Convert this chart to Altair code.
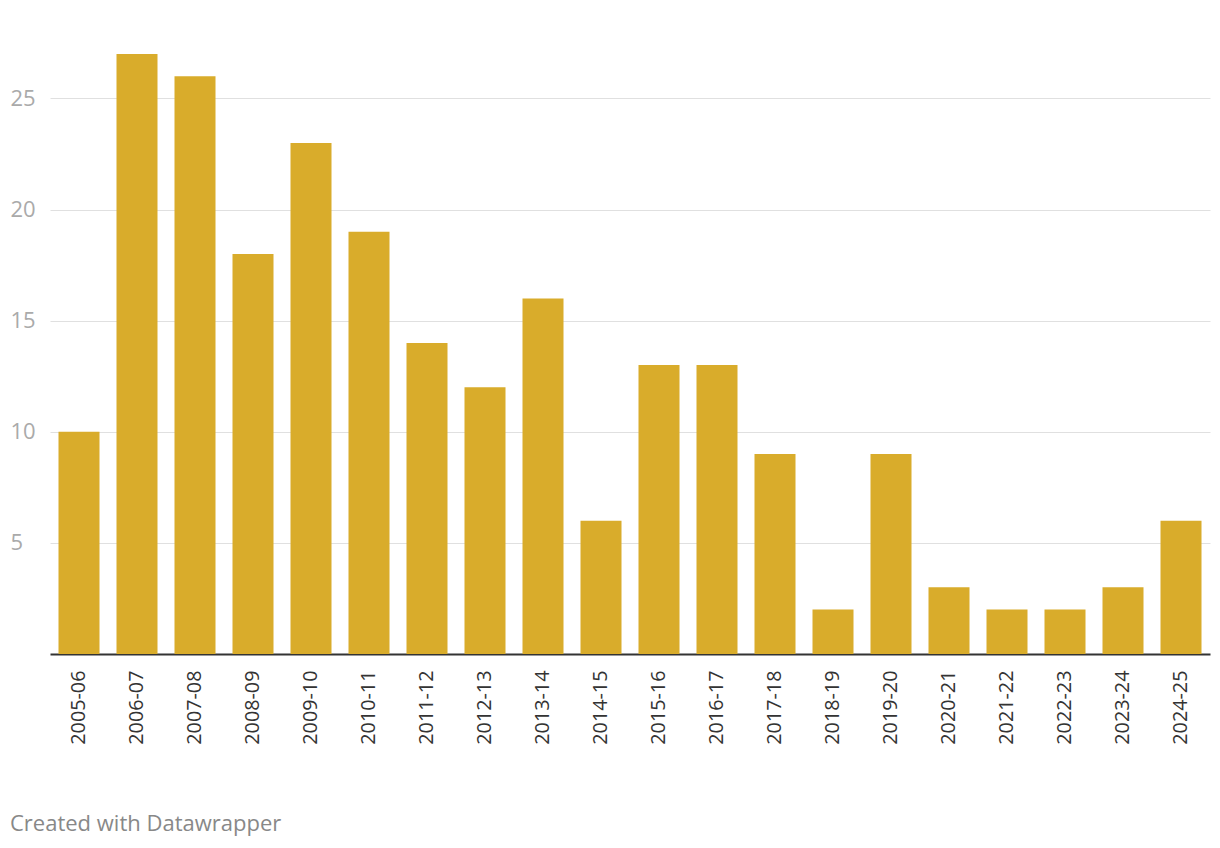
import altair as alt
import pandas as pd

seasons = ["2005-06", "2006-07", "2007-08", "2008-09", "2009-10", "2010-11", "2011-12",
           "2012-13", "2013-14", "2014-15", "2015-16", "2016-17", "2017-18", "2018-19",
           "2019-20", "2020-21", "2021-22", "2022-23", "2023-24", "2024-25"]
values = [10, 27, 26, 18, 23, 19, 14, 12, 16, 6, 13, 13, 9, 2, 9, 3, 2, 2, 3, 6]
y_ticks = [5, 10, 15, 20, 25]

df = pd.DataFrame({"season": seasons, "value": values})

FONT = "Open Sans"

chart = alt.Chart(df).mark_bar(color="#d9ac2b").encode(
    x=alt.X("season:N", sort=seasons, title=None,
            scale=alt.Scale(paddingInner=0.293, paddingOuter=0.1465),
            axis=alt.Axis(labelAngle=-90, labelAlign="right", labelBaseline="middle",
                          labelPadding=16, ticks=False, domainColor="#333333",
                          domainWidth=2, labelColor="#333333", labelFontSize=19.8,
                          labelFont=FONT, grid=False)),
    y=alt.Y("value:Q", title=None,
            scale=alt.Scale(domain=[0, 27], nice=False),
            axis=alt.Axis(values=y_ticks, ticks=False, domain=False, labelAlign="left",
                          labelBaseline="middle", labelPadding=40, labelColor="#aaaaaa",
                          labelFontSize=22, labelFont=FONT, gridColor="#e0e0e0",
                          gridWidth=1)),
).properties(
    width=1160,
    height=600,
    autosize=alt.AutoSizeParams(type="none"),
    padding={"left": 42, "top": 46, "right": 2, "bottom": 184},
    title=alt.TitleParams("Created with Datawrapper", orient="bottom", anchor="start",
                          font=FONT, fontSize=22, fontWeight="normal", color="#888888",
                          offset=70, dx=0),
).configure_view(stroke=None).configure_axis(gridOpacity=1)

chart.save("out.html", embed_options={"renderer": "svg", "actions": False})
